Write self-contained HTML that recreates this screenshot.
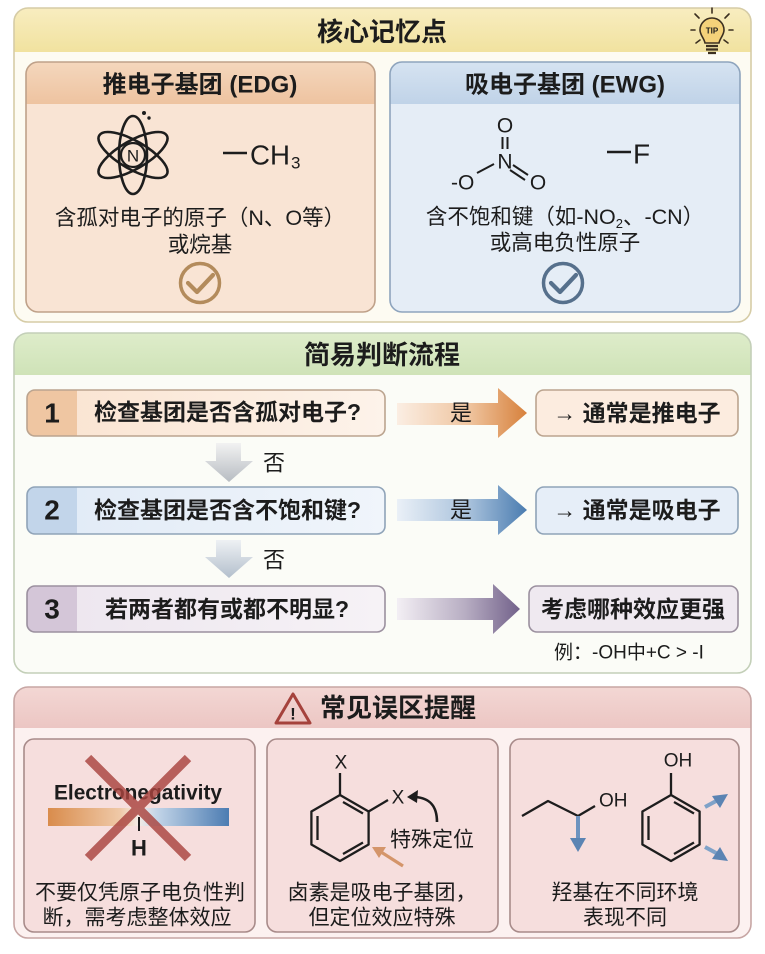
<!DOCTYPE html>
<html><head><meta charset="utf-8"><style>
html,body{margin:0;padding:0;background:#fff;}
svg{display:block;}
text{font-family:"Liberation Sans","Noto Sans CJK SC",sans-serif;fill:#1c1c1c;}
.b{font-weight:700;}
</style></head><body>
<svg width="765" height="954" viewBox="0 0 765 954" xmlns="http://www.w3.org/2000/svg">
<defs>
<clipPath id="s1"><rect x="14" y="8" width="737" height="314" rx="14"/></clipPath>
<clipPath id="s2"><rect x="14" y="333" width="737" height="340" rx="14"/></clipPath>
<clipPath id="s3"><rect x="14" y="687" width="737" height="251" rx="14"/></clipPath>
<clipPath id="cL"><rect x="26" y="62" width="349" height="250" rx="12"/></clipPath>
<clipPath id="cR"><rect x="390" y="62" width="350" height="250" rx="12"/></clipPath>
<clipPath id="r1"><rect x="27" y="390" width="358" height="46" rx="8"/></clipPath>
<clipPath id="r2"><rect x="27" y="487" width="358" height="47" rx="8"/></clipPath>
<clipPath id="r3"><rect x="27" y="586" width="358" height="46" rx="8"/></clipPath>
<linearGradient id="gy" x1="0" y1="0" x2="0" y2="1"><stop offset="0" stop-color="#f8edc0"/><stop offset="1" stop-color="#f1e29f"/></linearGradient>
<linearGradient id="gg" x1="0" y1="0" x2="0" y2="1"><stop offset="0" stop-color="#deecca"/><stop offset="1" stop-color="#cfe3b8"/></linearGradient>
<linearGradient id="gp" x1="0" y1="0" x2="0" y2="1"><stop offset="0" stop-color="#f3d7d4"/><stop offset="1" stop-color="#ecc6c3"/></linearGradient>
<linearGradient id="go" x1="0" y1="0" x2="0" y2="1"><stop offset="0" stop-color="#f4d7bd"/><stop offset="1" stop-color="#eec3a0"/></linearGradient>
<linearGradient id="gb" x1="0" y1="0" x2="0" y2="1"><stop offset="0" stop-color="#d6e3f1"/><stop offset="1" stop-color="#c0d3e8"/></linearGradient>
<linearGradient id="ao" gradientUnits="userSpaceOnUse" x1="397" y1="0" x2="527" y2="0"><stop offset="0" stop-color="#fbeee3"/><stop offset="0.55" stop-color="#efc5a0"/><stop offset="1" stop-color="#d7813c"/></linearGradient>
<linearGradient id="ab" gradientUnits="userSpaceOnUse" x1="397" y1="0" x2="527" y2="0"><stop offset="0" stop-color="#eaf0f7"/><stop offset="0.55" stop-color="#a9c2dc"/><stop offset="1" stop-color="#4a7cb0"/></linearGradient>
<linearGradient id="ap" gradientUnits="userSpaceOnUse" x1="397" y1="0" x2="520" y2="0"><stop offset="0" stop-color="#f3eff4"/><stop offset="0.55" stop-color="#b8aec3"/><stop offset="1" stop-color="#72618a"/></linearGradient>
<linearGradient id="ad" x1="0" y1="0" x2="0" y2="1"><stop offset="0" stop-color="#f2f2f2"/><stop offset="1" stop-color="#b7bcc2"/></linearGradient>
<linearGradient id="ad2" x1="0" y1="0" x2="0" y2="1"><stop offset="0" stop-color="#eef1f4"/><stop offset="1" stop-color="#b3bfcc"/></linearGradient>
<linearGradient id="row1" x1="0" y1="0" x2="1" y2="0"><stop offset="0" stop-color="#fae3d0"/><stop offset="1" stop-color="#fdf3ea"/></linearGradient>
<linearGradient id="row2" x1="0" y1="0" x2="1" y2="0"><stop offset="0" stop-color="#e0eaf6"/><stop offset="1" stop-color="#f0f5fb"/></linearGradient>
<linearGradient id="row3" x1="0" y1="0" x2="1" y2="0"><stop offset="0" stop-color="#ece5ee"/><stop offset="1" stop-color="#f6f2f6"/></linearGradient>
<linearGradient id="bar" x1="0" y1="0" x2="1" y2="0"><stop offset="0" stop-color="#d98c4c"/><stop offset="0.4" stop-color="#efc9a8"/><stop offset="0.5" stop-color="#f4ece6"/><stop offset="0.6" stop-color="#c3d5e8"/><stop offset="1" stop-color="#4c7cb2"/></linearGradient>
<linearGradient id="orl" x1="0" y1="0" x2="0" y2="1"><stop offset="0" stop-color="#d9955a"/><stop offset="1" stop-color="#d9955a" stop-opacity="0.2"/></linearGradient>
</defs>
<rect width="765" height="954" fill="#ffffff"/>

<!-- SECTION 1 -->
<g clip-path="url(#s1)">
<rect x="14" y="8" width="737" height="314" fill="#fdfbf2"/>
<rect x="14" y="8" width="737" height="44" fill="url(#gy)"/>
</g>
<rect x="14" y="8" width="737" height="314" rx="14" fill="none" stroke="#d6cca6" stroke-width="1.6"/>
<text x="382" y="32" class="b" font-size="26" text-anchor="middle" dominant-baseline="central">核心记忆点</text>
<!-- TIP bulb -->
<g transform="translate(712,30)">
<g stroke="#3c3020" stroke-width="1.6" stroke-linecap="round">
<path d="M0,-17 v-5 M-13,-12 l-4,-4 M13,-12 l4,-4 M-17,0 h-4 M17,0 h4 M-12,10 l-4,3 M12,10 l4,3"/>
</g>
<path d="M-12,0 a12,12 0 1,1 24,0 c0,5 -4,8 -5,13 h-14 c-1,-5 -5,-8 -5,-13z" fill="#f4d27a" stroke="#3c3020" stroke-width="1.6"/>
<text x="0" y="1" font-size="8" class="b" text-anchor="middle" dominant-baseline="central">TIP</text>
<path d="M-6,16 h12 M-6,19.5 h12 M-4,23 h8" stroke="#3c3020" stroke-width="2.2"/>
</g>

<!-- Left card -->
<g clip-path="url(#cL)">
<rect x="26" y="62" width="349" height="250" fill="#f9e4d4"/>
<rect x="26" y="62" width="349" height="42" fill="url(#go)"/>
</g>
<rect x="26" y="62" width="349" height="250" rx="12" fill="none" stroke="#bfa189" stroke-width="1.6"/>
<text x="200" y="85" class="b" font-size="24" text-anchor="middle" dominant-baseline="central">推电子基团 (EDG)</text>
<g transform="translate(133,155)" stroke="#1d1d1d" stroke-width="2.6" fill="none">
<ellipse rx="39" ry="14" transform="rotate(90)"/>
<ellipse rx="39" ry="14" transform="rotate(30)"/>
<ellipse rx="39" ry="14" transform="rotate(-30)"/>
<circle r="12" fill="#f9e4d4" stroke-width="2.2"/>
</g>
<text x="133" y="156" font-size="17" text-anchor="middle" dominant-baseline="central">N</text>
<circle cx="144" cy="113" r="2" fill="#1d1d1d"/>
<circle cx="149" cy="118" r="1.7" fill="#1d1d1d"/>
<line x1="223" y1="153" x2="247" y2="153" stroke="#1d1d1d" stroke-width="2.4"/>
<text x="250" y="155" font-size="28" dominant-baseline="central" textLength="40" lengthAdjust="spacingAndGlyphs">CH</text>
<text x="291" y="163" font-size="17" dominant-baseline="central">3</text>
<text x="200" y="218" font-size="21.5" text-anchor="middle" dominant-baseline="central">含孤对电子的原子（N、O等）</text>
<text x="200" y="245" font-size="21.5" text-anchor="middle" dominant-baseline="central">或烷基</text>
<circle cx="200" cy="283" r="19.5" fill="none" stroke="#b38b5c" stroke-width="3.5"/>
<path d="M188,283 L197,292 L213,275" fill="none" stroke="#b38b5c" stroke-width="4.2" stroke-linecap="round" stroke-linejoin="round"/>

<!-- Right card -->
<g clip-path="url(#cR)">
<rect x="390" y="62" width="350" height="250" fill="#e5edf6"/>
<rect x="390" y="62" width="350" height="42" fill="url(#gb)"/>
</g>
<rect x="390" y="62" width="350" height="250" rx="12" fill="none" stroke="#8ea4bd" stroke-width="1.6"/>
<text x="565" y="85" class="b" font-size="24" text-anchor="middle" dominant-baseline="central">吸电子基团 (EWG)</text>
<text x="505" y="126" font-size="21" text-anchor="middle" dominant-baseline="central">O</text>
<path d="M502.5,137 V149 M507.5,137 V149" stroke="#1d1d1d" stroke-width="2"/>
<text x="505" y="162" font-size="21" text-anchor="middle" dominant-baseline="central">N</text>
<text x="451" y="183" font-size="21" dominant-baseline="central">-O</text>
<line x1="477" y1="173" x2="494" y2="164" stroke="#1d1d1d" stroke-width="2"/>
<path d="M513,165 L528,175 M510,170 L525,180" stroke="#1d1d1d" stroke-width="2"/>
<text x="538" y="183" font-size="21" text-anchor="middle" dominant-baseline="central">O</text>
<line x1="607" y1="152" x2="631" y2="152" stroke="#1d1d1d" stroke-width="2.4"/>
<text x="633" y="154" font-size="28" dominant-baseline="central">F</text>
<text x="565" y="217" font-size="21.5" text-anchor="middle" dominant-baseline="central">含不饱和键（如-NO<tspan font-size="13" dy="6">2</tspan><tspan dy="-6">、-CN）</tspan></text>
<text x="565" y="243" font-size="21.5" text-anchor="middle" dominant-baseline="central">或高电负性原子</text>
<circle cx="563" cy="283" r="19.5" fill="none" stroke="#56708c" stroke-width="3.5"/>
<path d="M551,283 L560,292 L576,275" fill="none" stroke="#56708c" stroke-width="4.2" stroke-linecap="round" stroke-linejoin="round"/>

<!-- SECTION 2 -->
<g clip-path="url(#s2)">
<rect x="14" y="333" width="737" height="340" fill="#fbfcf7"/>
<rect x="14" y="333" width="737" height="42" fill="url(#gg)"/>
</g>
<rect x="14" y="333" width="737" height="340" rx="14" fill="none" stroke="#c3cfb8" stroke-width="1.6"/>
<text x="382" y="355" class="b" font-size="26" text-anchor="middle" dominant-baseline="central">简易判断流程</text>

<!-- Row 1 -->
<g clip-path="url(#r1)">
<rect x="27" y="390" width="358" height="46" fill="url(#row1)"/>
<rect x="27" y="390" width="50" height="46" fill="#efc6a2"/>
</g>
<rect x="27" y="390" width="358" height="46" rx="8" fill="none" stroke="#bba48f" stroke-width="1.6"/>
<text x="52" y="413" class="b" font-size="28" text-anchor="middle" dominant-baseline="central">1</text>
<text x="94" y="412" class="b" font-size="23" dominant-baseline="central">检查基团是否含孤对电子?</text>
<polygon points="397,403 498,403 498,388 527,413 498,438 498,425 397,425" fill="url(#ao)"/>
<text x="461" y="413" font-size="22" text-anchor="middle" dominant-baseline="central" fill="#333">是</text>
<rect x="536" y="390" width="202" height="46" rx="8" fill="#fcecdf" stroke="#bba48f" stroke-width="1.6"/>
<text x="637" y="413" class="b" font-size="23" text-anchor="middle" dominant-baseline="central">→ 通常是推电子</text>

<!-- down arrow 1 -->
<polygon points="216,443 241,443 241,461 253,461 229,482 205,461 216,461" fill="url(#ad)"/>
<text x="274" y="463" font-size="22" text-anchor="middle" dominant-baseline="central">否</text>

<!-- Row 2 -->
<g clip-path="url(#r2)">
<rect x="27" y="487" width="358" height="47" fill="url(#row2)"/>
<rect x="27" y="487" width="50" height="47" fill="#c2d5ea"/>
</g>
<rect x="27" y="487" width="358" height="47" rx="8" fill="none" stroke="#8fa3b8" stroke-width="1.6"/>
<text x="52" y="510" class="b" font-size="28" text-anchor="middle" dominant-baseline="central">2</text>
<text x="94" y="510" class="b" font-size="23" dominant-baseline="central">检查基团是否含不饱和键?</text>
<polygon points="397,499 498,499 498,485 527,510 498,535 498,521 397,521" fill="url(#ab)"/>
<text x="461" y="510" font-size="22" text-anchor="middle" dominant-baseline="central" fill="#333">是</text>
<rect x="536" y="487" width="202" height="47" rx="8" fill="#e6eef8" stroke="#8fa3b8" stroke-width="1.6"/>
<text x="637" y="510" class="b" font-size="23" text-anchor="middle" dominant-baseline="central">→ 通常是吸电子</text>

<!-- down arrow 2 -->
<polygon points="216,540 241,540 241,557 253,557 229,578 205,557 216,557" fill="url(#ad2)"/>
<text x="274" y="560" font-size="22" text-anchor="middle" dominant-baseline="central">否</text>

<!-- Row 3 -->
<g clip-path="url(#r3)">
<rect x="27" y="586" width="358" height="46" fill="url(#row3)"/>
<rect x="27" y="586" width="50" height="46" fill="#d4c6d8"/>
</g>
<rect x="27" y="586" width="358" height="46" rx="8" fill="none" stroke="#9b909f" stroke-width="1.6"/>
<text x="52" y="609" class="b" font-size="28" text-anchor="middle" dominant-baseline="central">3</text>
<text x="105" y="609" class="b" font-size="23" dominant-baseline="central">若两者都有或都不明显?</text>
<polygon points="397,598 493,598 493,584 520,609 493,634 493,620 397,620" fill="url(#ap)"/>
<rect x="529" y="586" width="209" height="46" rx="8" fill="#efe9f0" stroke="#9b909f" stroke-width="1.6"/>
<text x="633" y="609" class="b" font-size="23" text-anchor="middle" dominant-baseline="central">考虑哪种效应更强</text>
<text x="554" y="653" font-size="19" dominant-baseline="central">例：-OH中+C &gt; -I</text>

<!-- SECTION 3 -->
<g clip-path="url(#s3)">
<rect x="14" y="687" width="737" height="251" fill="#fcf1f0"/>
<rect x="14" y="687" width="737" height="41" fill="url(#gp)"/>
</g>
<rect x="14" y="687" width="737" height="251" rx="14" fill="none" stroke="#c7a6a4" stroke-width="1.6"/>
<path d="M293,694 L310,723 L276,723 Z" fill="none" stroke="#a5423c" stroke-width="3" stroke-linejoin="round"/>
<text x="293" y="714" class="b" font-size="17" text-anchor="middle" dominant-baseline="central" fill="#2a2a2a">!</text>
<text x="320" y="708" class="b" font-size="26" dominant-baseline="central">常见误区提醒</text>

<!-- Card 1 -->
<rect x="24" y="739" width="231" height="193" rx="10" fill="#f6dedd" stroke="#a88b8a" stroke-width="1.6"/>
<text x="138" y="793" class="b" font-size="21" text-anchor="middle" dominant-baseline="central" textLength="168" lengthAdjust="spacingAndGlyphs">Electronegativity</text>
<rect x="48" y="808" width="181" height="18" fill="url(#bar)"/>
<line x1="139" y1="817" x2="139" y2="831" stroke="#1d1d1d" stroke-width="2"/>
<text x="139" y="848" class="b" font-size="22" text-anchor="middle" dominant-baseline="central">H</text>
<path d="M88,758 L188,858 M188,758 L88,858" stroke="#a8433e" stroke-opacity="0.82" stroke-width="9"/>
<text x="140" y="893" font-size="21" text-anchor="middle" dominant-baseline="central">不要仅凭原子电负性判</text>
<text x="137" y="918" font-size="21" text-anchor="middle" dominant-baseline="central">断，需考虑整体效应</text>

<!-- Card 2 -->
<rect x="267" y="739" width="231" height="193" rx="10" fill="#f6dedd" stroke="#a88b8a" stroke-width="1.6"/>
<g stroke="#1d1d1d" stroke-width="2.3" fill="none" stroke-linejoin="round">
<path d="M340,795 L368.6,811.5 L368.6,844.5 L340,861 L311.4,844.5 L311.4,811.5 Z"/>
<path d="M317.5,816 V840 M343,802 L363,813.5 M363,842.5 L343,854"/>
<path d="M340,795 V773 M368.6,811.5 L388,800"/>
</g>
<text x="341" y="763" font-size="19" text-anchor="middle" dominant-baseline="central">X</text>
<text x="398" y="798" font-size="19" text-anchor="middle" dominant-baseline="central">X</text>
<path d="M437,822 C437,806 430,798 415,797" fill="none" stroke="#1d1d1d" stroke-width="2.6"/>
<polygon points="407,797 418,790 417,803" fill="#1d1d1d"/>
<text x="432" y="840" font-size="21" text-anchor="middle" dominant-baseline="central">特殊定位</text>
<line x1="403" y1="866" x2="381" y2="852" stroke="#d4956a" stroke-width="3.2"/>
<polygon points="372,847 386,847 379,858" fill="#d4956a"/>
<text x="382" y="893" font-size="21" text-anchor="middle" dominant-baseline="central">卤素是吸电子基团，</text>
<text x="382" y="918" font-size="21" text-anchor="middle" dominant-baseline="central">但定位效应特殊</text>

<!-- Card 3 -->
<rect x="510" y="739" width="229" height="193" rx="10" fill="#f6dedd" stroke="#a88b8a" stroke-width="1.6"/>
<path d="M522,816 L548,801 L578,816 L595,806" fill="none" stroke="#1d1d1d" stroke-width="2.3" stroke-linejoin="round"/>
<text x="599" y="801" font-size="19" dominant-baseline="central">OH</text>
<line x1="578" y1="775" x2="578" y2="794" stroke="url(#orl)" stroke-width="3"/>
<line x1="578" y1="816" x2="578" y2="840" stroke="#6d93bf" stroke-width="4"/>
<polygon points="570,838 586,838 578,852" fill="#5b84b3"/>
<g stroke="#1d1d1d" stroke-width="2.3" fill="none" stroke-linejoin="round">
<path d="M671,795 L699.6,811.5 L699.6,844.5 L671,861 L642.4,844.5 L642.4,811.5 Z"/>
<path d="M648.5,816 V840 M674,802 L694,813.5 M694,842.5 L674,854"/>
<path d="M671,795 V773"/>
</g>
<text x="678" y="761" font-size="19" text-anchor="middle" dominant-baseline="central">OH</text>
<line x1="705" y1="807" x2="718" y2="800" stroke="#7fa2c8" stroke-width="4"/>
<polygon points="728,794 712,796 720,808" fill="#5b84b3"/>
<line x1="705" y1="847" x2="718" y2="854" stroke="#7fa2c8" stroke-width="4"/>
<polygon points="728,861 712,859 720,847" fill="#5b84b3"/>
<text x="625" y="893" font-size="21" text-anchor="middle" dominant-baseline="central">羟基在不同环境</text>
<text x="625" y="918" font-size="21" text-anchor="middle" dominant-baseline="central">表现不同</text>
</svg>
</body></html>
